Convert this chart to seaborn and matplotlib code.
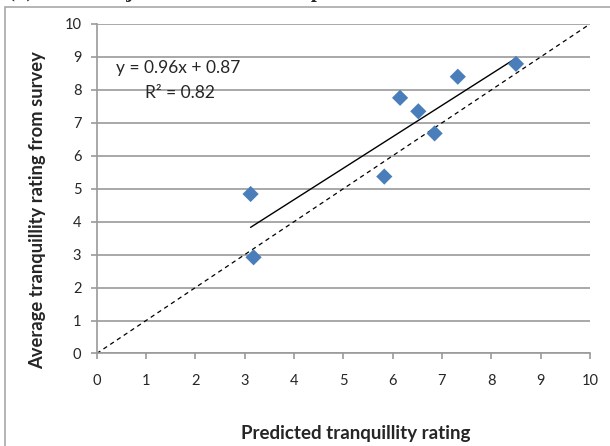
import numpy as np
import matplotlib
matplotlib.use("Agg")
import matplotlib.pyplot as plt
import seaborn as sns
from matplotlib.patches import Rectangle

# values
predicted = [3.12, 3.18, 5.83, 6.15, 6.52, 6.85, 7.32, 8.50]
survey = [4.84, 2.92, 5.37, 7.76, 7.35, 6.68, 8.40, 8.79]
ticks = list(range(0, 11))
eq_text = "y = 0.96x + 0.87"
r2_text = "R² = 0.82"

sns.set_style("white")
plt.rcParams["font.family"] = ["Lato", "DejaVu Sans"]

fig = plt.figure(figsize=(6.10, 4.46), dpi=100)
ax = fig.add_axes([0.1585, 0.2074, 0.8087, 0.7388])

grey = "#9a9a9a"

# 1:1 reference line
ax.plot([0, 10], [0, 10], ls=(0, (3.5, 3)), color="black", lw=0.9, zorder=2)

# survey vs predicted with linear trend
sns.regplot(x=predicted, y=survey, ci=None, ax=ax, marker="D", color="#4a7ebb",
            scatter_kws=dict(s=68, edgecolor="none", alpha=1, zorder=3),
            line_kws=dict(color="black", lw=1, zorder=2))

ax.set_xlim(0, 10)
ax.set_ylim(0, 10)
ax.set_xticks(ticks)
ax.set_yticks(ticks)
ax.grid(axis="y", color=grey, lw=1.2)
ax.grid(axis="x", visible=False)
ax.set_axisbelow(True)
for s in ["top", "right"]:
    ax.spines[s].set_visible(False)
for s in ["left", "bottom"]:
    ax.spines[s].set_color(grey)
    ax.spines[s].set_linewidth(1.2)
ax.tick_params(axis="x", length=4, color=grey, width=1.2, pad=11, labelsize=10.5)
ax.tick_params(axis="y", length=4, color=grey, width=1.2, pad=7, labelsize=10.5)
ax.tick_params(bottom=True, left=True)
ax.set_xlabel("")
ax.set_ylabel("")

# trendline equation
fig.text(116 / 610, 1 - 68 / 446, eq_text, fontsize=12.5, va="center", ha="left")
fig.text(145 / 610, 1 - 93 / 446, r2_text, fontsize=12.5, va="center", ha="left")

fig.text(356 / 610, 1 - 433 / 446, "Predicted tranquillity rating",
         fontsize=13.5, fontweight="bold", ha="center", va="center")
fig.text(38 / 610, 1 - 210 / 446, "Average tranquillity rating from survey",
         fontsize=13.2, fontweight="bold", ha="center", va="center", rotation=90)

# chart frame and the caption above it, cut off by the top edge as in the source
fig.patches.append(Rectangle((5 / 610, -0.1), 1.2, 1.1 - 7 / 446, transform=fig.transFigure,
                             fill=False, edgecolor="#a8a8a8", lw=1.2))
fig.text(8 / 610, 1.0 + 3 / 446, "(b) Mean subjective scores versus predicted", fontsize=15,
         fontweight="bold", family="Liberation Serif", ha="left", va="baseline")

fig.savefig("out.png", dpi=100)
